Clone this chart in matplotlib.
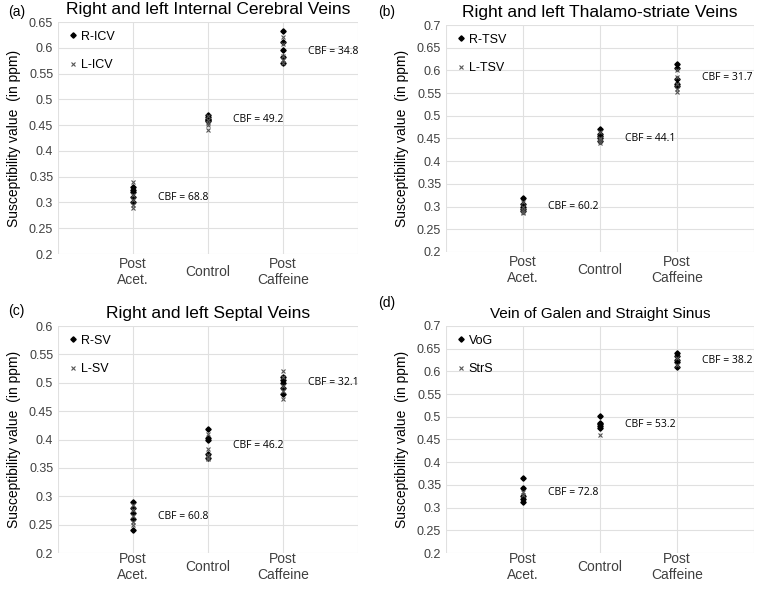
import numpy as np
import matplotlib.pyplot as plt

plt.rcParams['font.family'] = ['Liberation Sans', 'DejaVu Sans']

categories = ['Post\nAcet.', 'Control', 'Post\nCaffeine']

# (a) Internal Cerebral Veins
icv_r = [[0.33, 0.32, 0.31, 0.30, 0.325], [0.47, 0.465, 0.46, 0.462, 0.458], [0.633, 0.611, 0.595, 0.582, 0.57]]
icv_l = [[0.34, 0.315, 0.305, 0.29, 0.295], [0.468, 0.455, 0.45, 0.44, 0.46], [0.621, 0.607, 0.576, 0.57, 0.585]]
icv_cbf = ['CBF = 68.8', 'CBF = 49.2', 'CBF = 34.8']
icv_cbf_y = [0.31, 0.46, 0.592]

# (b) Thalamo-striate Veins
tsv_r = [[0.318, 0.305, 0.30, 0.295, 0.29], [0.47, 0.46, 0.455, 0.45, 0.445], [0.615, 0.605, 0.58, 0.57, 0.565]]
tsv_l = [[0.31, 0.30, 0.292, 0.288, 0.285], [0.465, 0.452, 0.445, 0.44, 0.448], [0.60, 0.585, 0.57, 0.56, 0.552]]
tsv_cbf = ['CBF = 60.2', 'CBF = 44.1', 'CBF = 31.7']
tsv_cbf_y = [0.30, 0.45, 0.585]

# (c) Septal Veins
sv_r = [[0.29, 0.28, 0.27, 0.26, 0.24], [0.419, 0.403, 0.40, 0.375, 0.367], [0.51, 0.505, 0.50, 0.49, 0.48]]
sv_l = [[0.285, 0.275, 0.265, 0.255, 0.25], [0.41, 0.384, 0.372, 0.368, 0.365], [0.52, 0.51, 0.495, 0.485, 0.472]]
sv_cbf = ['CBF = 60.8', 'CBF = 46.2', 'CBF = 32.1']
sv_cbf_y = [0.264, 0.39, 0.50]

# (d) Vein of Galen and Straight Sinus
vog = [[0.365, 0.343, 0.326, 0.320, 0.313], [0.502, 0.487, 0.48, 0.476, 0.485], [0.64, 0.635, 0.625, 0.62, 0.61]]
strs = [[0.334, 0.328], [0.461], [0.63, 0.615]]
vog_cbf = ['CBF = 72.8', 'CBF = 53.2', 'CBF = 38.2']
vog_cbf_y = [0.334, 0.482, 0.625]

W, H = 760., 589.
# letter, title, series 1, series 2, labels, CBF texts, ymax, axes box (px: left, top, right, bottom), title size, letter pos, x label pad
panels = [
    ('(a)', 'Right and left Internal Cerebral Veins', icv_r, icv_l, 'R-ICV', 'L-ICV', icv_cbf, icv_cbf_y, 0.65,
     (58, 22, 358, 254), 12.5, (8, 12), 13),
    ('(b)', 'Right and left Thalamo-striate Veins', tsv_r, tsv_l, 'R-TSV', 'L-TSV', tsv_cbf, tsv_cbf_y, 0.7,
     (446, 25, 754, 252), 12.5, (378, 12), 13),
    ('(c)', 'Right and left Septal Veins', sv_r, sv_l, 'R-SV', 'L-SV', sv_cbf, sv_cbf_y, 0.6,
     (58, 326, 358, 553), 12.5, (8, 311), 10),
    ('(d)', 'Vein of Galen and Straight Sinus', vog, strs, 'VoG', 'StrS', vog_cbf, vog_cbf_y, 0.7,
     (446, 326, 754, 553), 11, (378, 303), 10),
]

fig = plt.figure(figsize=(7.6, 5.89), dpi=100)

for letter, title, r, l, rlab, llab, cbf, cbf_y, ymax, box, tsize, lpos, xpad in panels:
    x0, y0, x1, y1 = box
    ax = fig.add_axes([x0/W, 1-y1/H, (x1-x0)/W, (y1-y0)/H])
    # points of each category
    for i in range(3):
        x = i + 1
        ax.plot([x]*len(r[i]), r[i], 'D', color='black', markersize=2.7,
                label=rlab if i == 0 else None, zorder=3)
        ax.plot([x]*len(l[i]), l[i], 'x', color='#555555', markersize=2.6, mew=0.8,
                label=llab if i == 0 else None, zorder=3)
        ax.text(x + 0.33, cbf_y[i], cbf[i], fontsize=7.5, va='center', family='Open Sans')
    ax.set_xlim(0, 4)
    ax.set_ylim(0.2, ymax)
    yt = np.arange(0.2, ymax + 0.001, 0.05)
    ax.set_yticks(yt)
    ax.set_yticklabels(['%g' % round(v, 2) for v in yt])
    ax.set_xticks([0, 1, 2, 3, 4])
    ax.set_xticklabels([''] + categories + [''])
    ax.tick_params(length=0, labelsize=9, colors='#404040')
    ax.tick_params(axis='x', pad=xpad, labelsize=10)
    for lbl in ax.get_xticklabels():
        lbl.set_verticalalignment('center')
    ax.grid(True, color='#e0e0e0', linewidth=0.8)
    for s in ax.spines.values():
        s.set_visible(False)
    ax.set_ylabel('Susceptibility value  (in ppm)', fontsize=10, labelpad=6)
    ax.set_title(title, fontsize=tsize, pad=6)
    ax.legend(loc='upper left', frameon=False, fontsize=9, handletextpad=0.1,
              handlelength=1, labelspacing=1.3, borderaxespad=0.3)
    fig.text(lpos[0]/W, 1-lpos[1]/H, letter, fontsize=10, va='center')

plt.savefig('out.png', dpi=100)
